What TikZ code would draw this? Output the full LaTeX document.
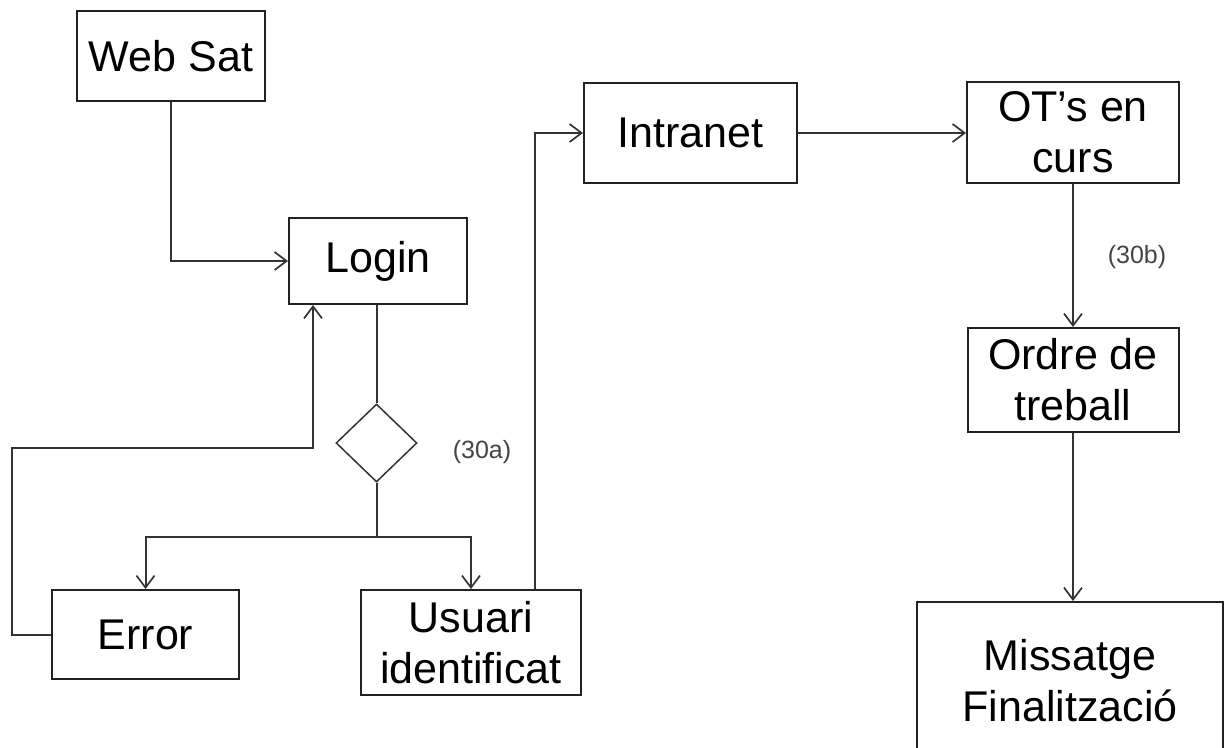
\documentclass[tikz,border=0pt]{standalone}
\usepackage{fontspec}
\setmainfont{Liberation Sans}
\usetikzlibrary{shapes.geometric,arrows.meta,calc}

\definecolor{boxline}{HTML}{222222}
\definecolor{wire}{HTML}{333333}
\definecolor{labelgray}{HTML}{444444}

\tikzset{
  stepbox/.style={draw=boxline, line width=2pt, fill=white, inner sep=0pt,
    align=center, font=\fontsize{43}{51}\selectfont},
  decision/.style={draw=wire, line width=1.5pt, diamond, inner sep=0pt,
    minimum width=81pt, minimum height=78pt},
  flow/.style={draw=wire, line width=2pt,
    -{Straight Barb[length=12pt, width=18pt, line width=1.7pt]}},
  plain/.style={draw=wire, line width=2pt},
  tag/.style={text=labelgray, font=\fontsize{25}{30}\selectfont},
}

\begin{document}
\begin{tikzpicture}[x=1pt, y=-1pt]
  \useasboundingbox (0,0) rectangle (1226,747);

  % boxes
  \node[stepbox, minimum width=188pt, minimum height=90pt]  (web)   at (171,56)     {Web Sat};
  \node[stepbox, minimum width=178pt, minimum height=86pt]  (login) at (378,261)    {Login};
  \node[decision] (dia) at (376.5,443) {};
  \node[stepbox, minimum width=187pt, minimum height=89pt]  (err)   at (145.5,634.5) {Error};
  \node[stepbox, minimum width=220pt, minimum height=105pt] (usr)   at (471,642.5)  {Usuari\\identificat};
  \node[stepbox, minimum width=213pt, minimum height=100pt] (intra) at (690.5,133)  {Intranet};
  \node[stepbox, minimum width=212pt, minimum height=101pt] (ots)   at (1073,132.5) {OT’s en\\curs};
  \node[stepbox, minimum width=211pt, minimum height=104pt] (ordre) at (1073,380)   {Ordre de\\treball};
  \node[stepbox, minimum width=306pt, minimum height=158pt] (msg)   at (1070,681)   {Missatge\\Finalització};

  % annotations
  \node[tag] (ta) at (482,452)  {(30a)};
  \node[tag] (tb) at (1137,257) {(30b)};

  % connectors
  \draw[flow] (web.south) |- (login.west);
  \draw[plain] (dia.north |- login.south) -- (dia.north);
  \coordinate (split) at ($(dia.south)+(0,54)$);
  \draw[plain] (dia.south) -- (split);
  \draw[flow] (split) -| (err.north);
  \draw[flow] (split) -| (usr.north);
  \coordinate (retx) at ([xshift=-65pt]login.south);
  \draw[flow] (err.west) -- ++(-39,0) |- ($(retx)+(0,143)$) -- (retx);
  \draw[flow] ([xshift=64pt]usr.north) |- (intra.west);
  \draw[flow] (intra.east) -- (intra.east -| ots.west);
  \draw[flow] (ots.south) -- (ots.south |- ordre.north);
  \draw[flow] (ordre.south) -- (ordre.south |- msg.north);
\end{tikzpicture}
\end{document}
